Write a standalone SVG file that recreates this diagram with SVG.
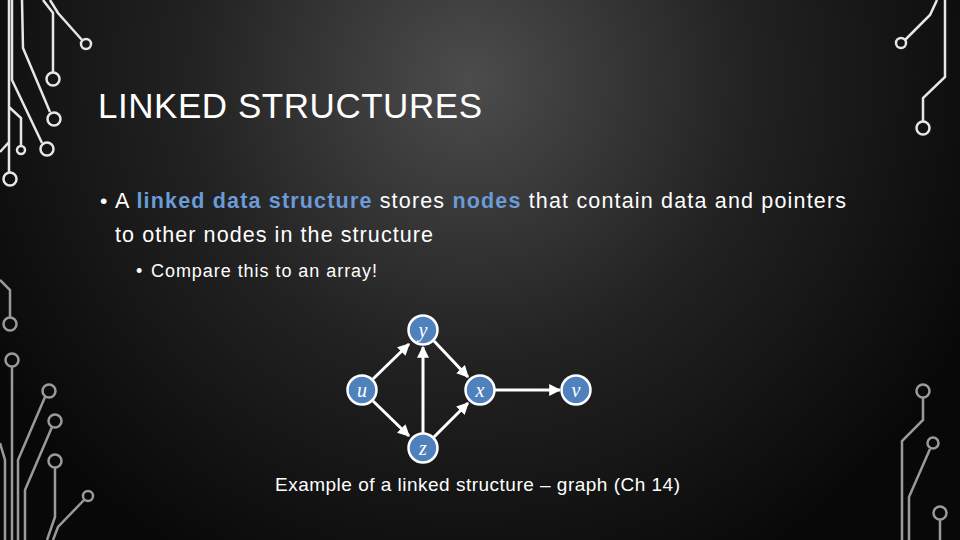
<svg xmlns="http://www.w3.org/2000/svg" width="960" height="540" viewBox="0 0 960 540">
<defs>
<radialGradient id="bg" cx="470" cy="80" r="560" gradientUnits="userSpaceOnUse">
<stop offset="0" stop-color="#4c4c4c"/><stop offset="0.5" stop-color="#222"/><stop offset="1" stop-color="#080808"/>
</radialGradient>
<marker id="ah" viewBox="0 0 10 10" refX="9" refY="5" markerWidth="4" markerHeight="4" orient="auto"><path d="M0,0 L10,5 L0,10 z" fill="#fff"/></marker>
<style>
.ct{fill:none;stroke:#e6e6e6;stroke-width:2.5}
.cb{fill:none;stroke:#9a9a9a;stroke-width:2.5}
.nd{fill:#4f81bd;stroke:#fff;stroke-width:2.5}
.nl{font-family:"Liberation Serif",serif;font-style:italic;font-size:20px;fill:#fff;text-anchor:middle}
.e{stroke:#fff;stroke-width:3;fill:none;marker-end:url(#ah)}
.t{font-family:"Liberation Sans",Arial,sans-serif;fill:#fff}
.b{fill:#6b9bd8;font-weight:bold}
</style>
</defs>
<rect width="960" height="540" fill="url(#bg)"/>
<g id="circuits">
<path class="ct" d="M43,0 L53,13 L53,72 M50,0 L58,13 L82,40 M22,0 L23,48 L50,112 M12,0 L12,80 L42,143 M9,0 L9,172 M9,107 L21,118 L21,146 M0,152 L9,142"/>
<circle class="ct" cx="53" cy="79" r="6.5"/><circle class="ct" cx="86" cy="44" r="5"/>
<circle class="ct" cx="54" cy="119" r="6.5"/><circle class="ct" cx="47" cy="149" r="6.5"/>
<circle class="ct" cx="10" cy="179" r="6.5"/><circle class="ct" cx="21" cy="150" r="4"/>
<path class="cb" d="M0,280 L10,290 L10,317 M12,367 L12,540 M45,397 L18,460 L18,540 M52,427 L25,490 L25,540 M55,468 L55,517 L47,540 M84,500 L58,527 L53,540 M0,443 L5,460 L5,540"/>
<circle class="cb" cx="10" cy="324" r="6.5"/><circle class="cb" cx="12" cy="360" r="6.5"/>
<circle class="cb" cx="49" cy="391" r="6.5"/><circle class="cb" cx="55" cy="421" r="6.5"/>
<circle class="cb" cx="55" cy="461" r="6.5"/><circle class="cb" cx="88" cy="496" r="5"/>
<path class="ct" d="M945,0 L945,77 L923,98 L923,121 M937,0 L930,15 L905,40"/>
<circle class="ct" cx="923" cy="128" r="6.5"/><circle class="ct" cx="901" cy="43" r="5"/>
<path class="cb" d="M923,398 L923,420 L902,441 L902,540 M930,449 L909,497 L909,540 M940,520 L940,540"/>
<circle class="cb" cx="923" cy="391" r="6.5"/><circle class="cb" cx="933" cy="443" r="5.5"/><circle class="cb" cx="940" cy="513" r="6.5"/>
</g>
<text class="t" x="98" y="118" font-size="35" textLength="384" lengthAdjust="spacing">LINKED STRUCTURES</text>
<text class="t" x="100" y="208" font-size="21">•</text>
<text class="t" x="115" y="208" font-size="21.5" textLength="731" lengthAdjust="spacing">A <tspan class="b">linked data structure</tspan> stores <tspan class="b">nodes</tspan> that contain data and pointers</text>
<text class="t" x="115" y="242" font-size="21.5" textLength="318" lengthAdjust="spacing">to other nodes in the structure</text>
<text class="t" x="136" y="277" font-size="18">•</text>
<text class="t" x="151" y="277" font-size="18" textLength="226" lengthAdjust="spacing">Compare this to an array!</text>
<g id="connectors">
<line class="e" x1="373" y1="379" x2="409" y2="344"/>
<line class="e" x1="373" y1="401" x2="409" y2="436"/>
<line class="e" x1="423" y1="433" x2="423" y2="347"/>
<line class="e" x1="434" y1="341" x2="468" y2="377"/>
<line class="e" x1="434" y1="437" x2="468" y2="403"/>
<line class="e" x1="495" y1="390" x2="560" y2="390"/>
</g>
<g id="node-y"><circle class="nd" cx="423" cy="330" r="14.5"/><text class="nl" x="423" y="337">y</text></g>
<g id="node-u"><circle class="nd" cx="362" cy="390" r="14.5"/><text class="nl" x="362" y="397">u</text></g>
<g id="node-x"><circle class="nd" cx="480" cy="390" r="14.5"/><text class="nl" x="480" y="397">x</text></g>
<g id="node-v"><circle class="nd" cx="576" cy="390" r="14.5"/><text class="nl" x="576" y="397">v</text></g>
<g id="node-z"><circle class="nd" cx="423" cy="448" r="14.5"/><text class="nl" x="423" y="455">z</text></g>
<text class="t" x="275" y="491" font-size="19" textLength="405" lengthAdjust="spacing">Example of a linked structure – graph (Ch 14)</text>
</svg>
